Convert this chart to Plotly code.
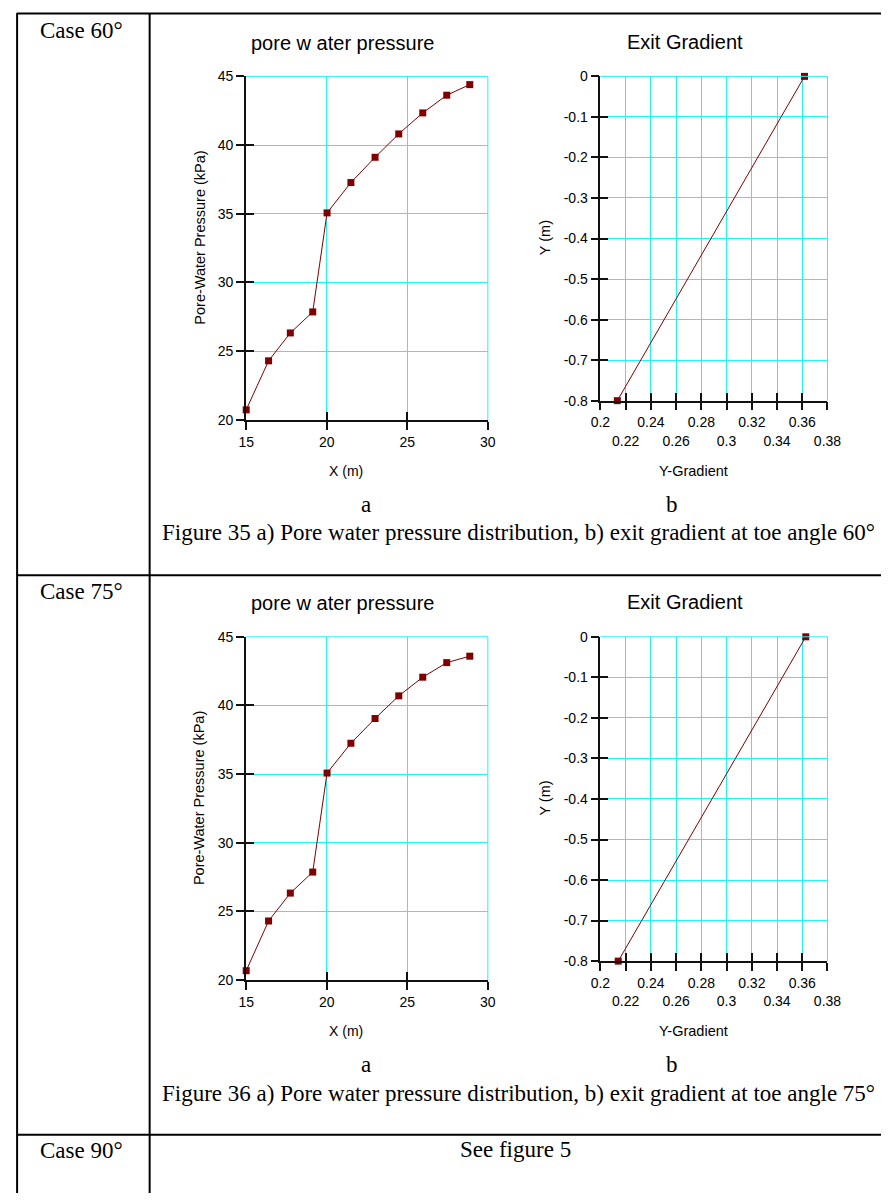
import plotly.graph_objects as go

W, H = 895, 1201

# ---- data -------------------------------------------------------------
x_dist = [15.0, 16.39, 17.74, 19.13, 20.02, 21.5, 23.0, 24.47, 25.96, 27.45, 28.88]
pwp_60 = [20.72, 24.29, 26.32, 27.85, 35.06, 37.27, 39.11, 40.81, 42.34, 43.63, 44.40]
pwp_75 = [20.69, 24.31, 26.34, 27.87, 35.08, 37.25, 39.05, 40.70, 42.06, 43.12, 43.59]

grad_60 = [0.2134, 0.3618]
grad_75 = [0.2141, 0.3628]
y_exit = [-0.8, 0.0]

pwp_xticks = [15, 20, 25, 30]
pwp_yticks = [20, 25, 30, 35, 40, 45]
grad_xticks = [0.20, 0.22, 0.24, 0.26, 0.28, 0.30, 0.32, 0.34, 0.36, 0.38]
grad_xlabels = ["0.2", "0.22", "0.24", "0.26", "0.28", "0.3", "0.32", "0.34", "0.36", "0.38"]
grad_yticks = [-0.8, -0.7, -0.6, -0.5, -0.4, -0.3, -0.2, -0.1, 0.0]
grad_ylabels = ["-0.8", "-0.7", "-0.6", "-0.5", "-0.4", "-0.3", "-0.2", "-0.1", "0"]

cases = ["Case 60°", "Case 75°", "Case 90°"]
captions = [
    "Figure 35 a) Pore water pressure distribution, b) exit gradient at toe angle 60°",
    "Figure 36 a) Pore water pressure distribution, b) exit gradient at toe angle 75°",
]

# ---- styling ----------------------------------------------------------
SANS = "Liberation Sans, Arial, sans-serif"
SERIF = "Liberation Serif, Times New Roman, serif"
RED = "#800000"
GRID = "#22F4F4"
AXIS = "#111111"


def px(x):
    return x / W


def py(y):
    return 1 - y / H


def sfx(n):
    return "" if n == 1 else str(n)


fig = go.Figure()
layout = dict(
    width=W, height=H, margin=dict(l=0, r=0, t=0, b=0),
    paper_bgcolor="white", plot_bgcolor="white", showlegend=False,
    font=dict(family=SANS, size=14, color="black"),
)
annotations = []
shapes = []


def add_panel(idx, xs, ys, xdom, ydom, xrange_, yrange_, xticks, xtext, yticks, ytext,
              xtext2=None, lw=2):
    """One chart: main axes (outside ticks, grid) + overlay axes (inside ticks)."""
    a, b = sfx(2 * idx + 1), sfx(2 * idx + 2)
    xa, ya, xb, yb = f"x{a}", f"y{a}", f"x{b}", f"y{b}"
    fig.add_trace(go.Scatter(
        x=xs, y=ys, mode="lines+markers", xaxis=xa, yaxis=ya,
        line=dict(color=RED, width=1),
        marker=dict(symbol="square", size=7, color=RED),
        cliponaxis=False,
    ))
    fig.add_trace(go.Scatter(x=[], y=[], xaxis=xb, yaxis=yb, hoverinfo="skip"))
    layout[f"xaxis{a}"] = dict(
        domain=xdom, range=xrange_, anchor=ya, tickmode="array", tickvals=xticks,
        ticktext=xtext, ticks="outside", ticklen=8, tickwidth=1.5, tickcolor=AXIS,
        showline=True, linecolor=AXIS, linewidth=lw, showgrid=True, gridcolor=GRID,
        gridwidth=1, zeroline=False, tickfont=dict(size=14), fixedrange=True,
    )
    layout[f"yaxis{a}"] = dict(
        domain=ydom, range=yrange_, anchor=xa, tickmode="array", tickvals=yticks,
        ticktext=ytext, ticks="outside", ticklen=8, tickwidth=1.5, tickcolor=AXIS,
        showline=True, linecolor=AXIS, linewidth=lw, showgrid=True, gridcolor=GRID,
        gridwidth=1, zeroline=False, tickfont=dict(size=14), fixedrange=True,
    )
    layout[f"xaxis{b}"] = dict(
        overlaying=xa, range=xrange_, anchor=yb, tickmode="array", tickvals=xticks,
        ticktext=xtext2 if xtext2 else [""] * len(xticks),
        showticklabels=bool(xtext2), ticklabelstandoff=30,
        ticks="inside", ticklen=8, tickwidth=1.5, tickcolor=AXIS,
        showline=False, showgrid=False, zeroline=False, tickfont=dict(size=14),
        fixedrange=True,
    )
    layout[f"yaxis{b}"] = dict(
        overlaying=ya, range=yrange_, anchor=xb, tickmode="array", tickvals=yticks,
        showticklabels=False, ticks="inside", ticklen=8, tickwidth=1.5, tickcolor=AXIS,
        showline=False, showgrid=False, zeroline=False, fixedrange=True,
    )
    # cyan frame on the top and right edges of the plotting area
    shapes.append(dict(type="line", xref=f"{xa} domain", yref=f"{ya} domain",
                       x0=0, x1=1, y0=1, y1=1, line=dict(color=GRID, width=1)))
    shapes.append(dict(type="line", xref=f"{xa} domain", yref=f"{ya} domain",
                       x0=1, x1=1, y0=0, y1=1, line=dict(color=GRID, width=1)))


def text(x, y, s, size, family=SANS, angle=0):
    annotations.append(dict(
        x=px(x), y=py(y), xref="paper", yref="paper", text=s, showarrow=False,
        xanchor="center", yanchor="middle", textangle=angle,
        font=dict(family=family, size=size, color="black"),
    ))


row_dy = [0, 568]
pwp_sets = [pwp_60, pwp_75]
grad_sets = [grad_60, grad_75]
grad_row1 = [t if i % 2 == 0 else "" for i, t in enumerate(grad_xlabels)]
grad_row2 = [t if i % 2 == 1 else "" for i, t in enumerate(grad_xlabels)]

for r in range(2):
    dy = row_dy[r]
    # pore water pressure panel
    add_panel(2 * r, x_dist, pwp_sets[r],
              [px(242.7), px(491)], [py(417.3 + dy), py(69.3 + dy)],
              [15, 30], [20, 45],
              pwp_xticks, [str(v) for v in pwp_xticks],
              pwp_yticks, [str(v) for v in pwp_yticks])
    # exit gradient panel
    add_panel(2 * r + 1, grad_sets[r], y_exit,
              [px(606.7), px(840)], [py(398 + dy), py(69.3 + dy)],
              [0.2, 0.38], [-0.8, 0.0],
              grad_xticks, grad_row1, grad_yticks, grad_ylabels,
              xtext2=grad_row2, lw=1.6)

    text(342, 35 + dy, "pore w ater pressure", 20)
    text(694, 34 + dy, "Exit Gradient", 20)
    text(195, 233 + dy, "Pore-Water Pressure (kPa)", 14.5, angle=-90)
    text(550, 233 + dy, "Y (m)", 14.5, angle=-90)
    text(345, 469 + dy, "X (m)", 14)
    text(702, 469 + dy, "Y-Gradient", 14.5)
    text(366, 503 + dy, "a", 23, SERIF)
    text(680, 503 + dy, "b", 23, SERIF)
    text(523, 532 + dy, captions[r], 23, SERIF)

text(73, 23, cases[0], 23, SERIF)
text(73, 591, cases[1], 23, SERIF)
text(73, 1158, cases[2], 23, SERIF)
text(519, 1157, "See figure 5", 23, SERIF)

# table rules
TBL = dict(color="black", width=2)
for yv in [5.5, 575, 1142]:
    shapes.append(dict(type="line", xref="paper", yref="paper", x0=px(7), x1=1,
                       y0=py(yv), y1=py(yv), line=TBL))
for xv in [7.3, 143.5]:
    shapes.append(dict(type="line", xref="paper", yref="paper", x0=px(xv), x1=px(xv),
                       y0=py(5), y1=0, line=TBL))

layout["annotations"] = annotations
layout["shapes"] = shapes
fig.update_layout(**layout)
fig.write_html("out.html")
